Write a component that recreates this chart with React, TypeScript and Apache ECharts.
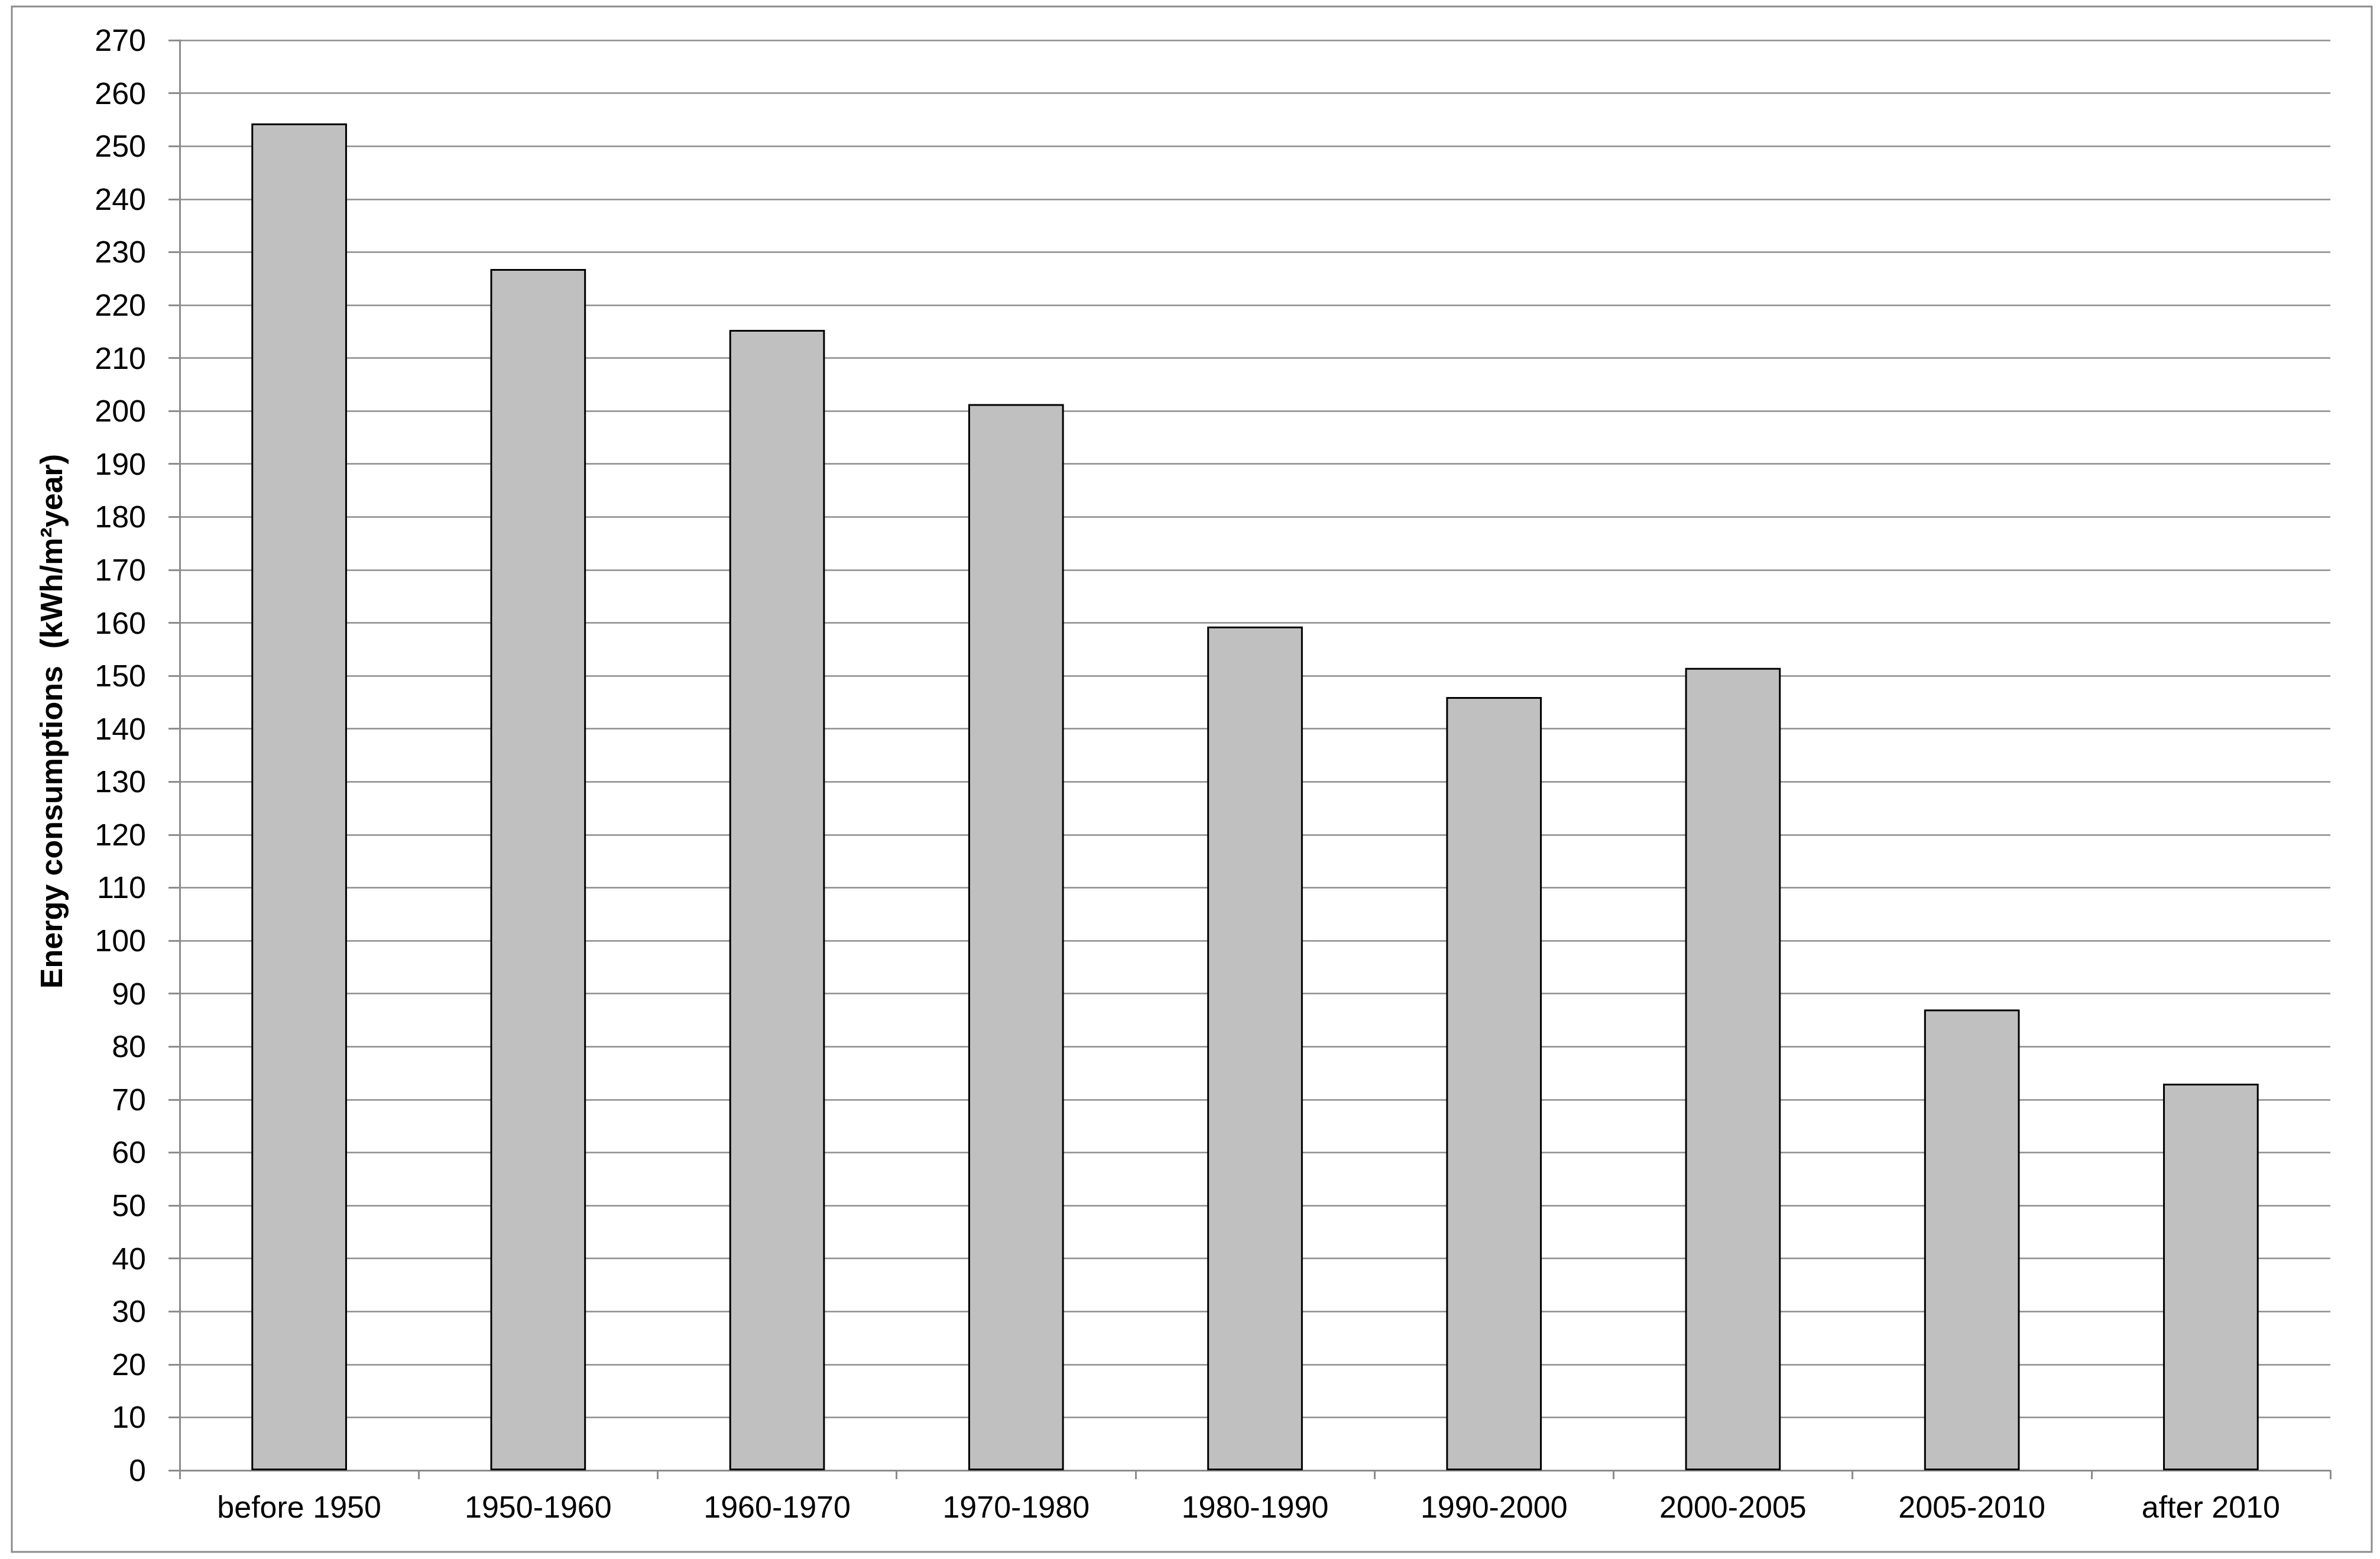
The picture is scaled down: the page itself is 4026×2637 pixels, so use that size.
import React, { useEffect, useRef } from "react";
import * as echarts from "echarts";

const categories = [
  "before 1950",
  "1950-1960",
  "1960-1970",
  "1970-1980",
  "1980-1990",
  "1990-2000",
  "2000-2005",
  "2005-2010",
  "after 2010",
];
const energyValues = [254.3, 226.8, 215.3, 201.3, 159.3, 146, 151.5, 87, 73];
const yAxisTitle = "Energy consumptions  (kWh/m²year)";
const yMin = 0;
const yMax = 270;
const yInterval = 10;

const FONT = "'Liberation Sans', Arial, sans-serif";
const GRAY = "#8c8c8c";

export default function App() {
  const ref = useRef<HTMLDivElement>(null);

  useEffect(() => {
    document.body.style.margin = "0";
    const chart = echarts.init(ref.current!, undefined, { renderer: "svg" });
    chart.setOption({
      animation: false,
      backgroundColor: "#ffffff",
      grid: { left: 304, top: 68, right: 84, bottom: 150, containLabel: false },
      xAxis: {
        type: "category",
        data: categories,
        boundaryGap: true,
        axisLine: { show: true, lineStyle: { color: GRAY, width: 3 } },
        axisTick: { show: true, alignWithLabel: false, length: 15, lineStyle: { color: GRAY, width: 3 } },
        axisLabel: { color: "#000", fontSize: 52, fontFamily: FONT, margin: 36, interval: 0 },
        splitLine: { show: false },
      },
      yAxis: {
        type: "value",
        min: yMin,
        max: yMax,
        interval: yInterval,
        axisLine: { show: true, lineStyle: { color: GRAY, width: 3 } },
        axisTick: { show: true, length: 19, lineStyle: { color: GRAY, width: 3 } },
        axisLabel: { color: "#000", fontSize: 52, fontFamily: FONT, margin: 57 },
        splitLine: { show: true, lineStyle: { color: GRAY, width: 2.5 } },
      },
      series: [
        {
          type: "bar",
          data: energyValues,
          barCategoryGap: "60%",
          itemStyle: { color: "#c0c0c0", borderColor: "#000", borderWidth: 3 },
        },
      ],
      graphic: [
        {
          type: "rect",
          shape: { x: 20, y: 11, width: 3992, height: 2614 },
          style: { fill: "none", stroke: GRAY, lineWidth: 3 },
          silent: true,
        },
        {
          type: "text",
          x: 87,
          y: 1220,
          rotation: Math.PI / 2,
          style: {
            text: yAxisTitle,
            fontSize: 52,
            fontWeight: "bold",
            fontFamily: FONT,
            fill: "#000",
            textAlign: "center",
            textVerticalAlign: "middle",
          },
        },
      ],
    });
    return () => chart.dispose();
  }, []);

  return (
    <div
      ref={ref}
      style={{ position: "fixed", left: 0, top: 0, width: 4026, height: 2637, background: "#fff" }}
    />
  );
}
